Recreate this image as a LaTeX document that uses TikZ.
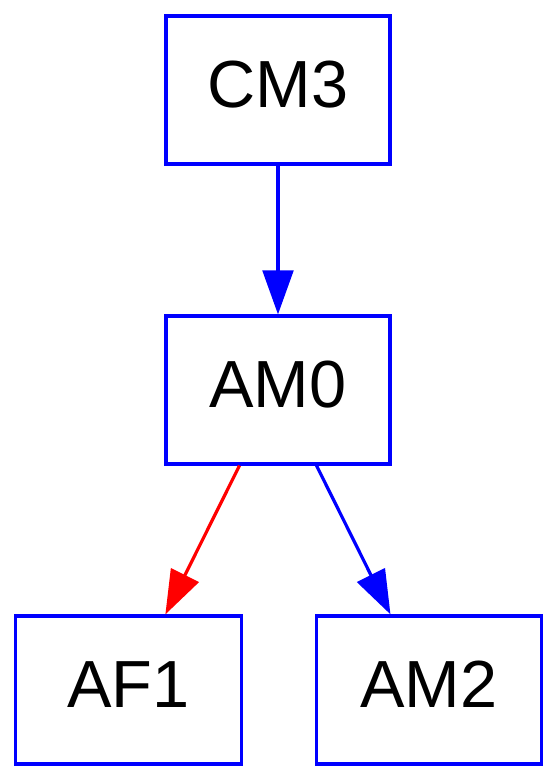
\documentclass[tikz,border=0pt]{standalone}
\usepackage{fontspec}
\setmainfont{Liberation Sans}
\usepackage{tikz}
\usetikzlibrary{positioning, arrows.meta}
\definecolor{edgeblue}{RGB}{0,0,255}
\definecolor{edgered}{RGB}{255,0,0}
\tikzset{
  box/.style={rectangle, draw=edgeblue, line width=2.4pt, minimum width=168pt, minimum height=111pt, inner sep=0pt, text height=36pt, text depth=10.5pt, font=\fontsize{50}{54}\selectfont},
  link/.style={line width=2.4pt, -{Triangle[length=33pt, width=23pt]}},
}
\begin{document}
\begin{tikzpicture}[x=0.75pt, y=-0.75pt]
\useasboundingbox (0,0) rectangle (558,783);
\node[box] (cm3) at (278,90) {CM3};
\node[box] (am0) at (278,390) {AM0};
\node[box, minimum width=170pt] (af1) at (128.5,690) {AF1};
\node[box, minimum width=169pt] (am2) at (429,690) {AM2};
\draw[link, edgeblue] (cm3) -- (am0);
\draw[link, edgered] (am0.243) -- (af1.64);
\draw[link, edgeblue] (am0.297) -- (am2.117);
\end{tikzpicture}
\end{document}
